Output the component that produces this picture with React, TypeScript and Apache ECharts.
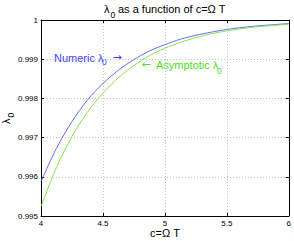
import React, { useEffect, useRef } from "react";
import * as echarts from "echarts";

const cValues = [4, 4.125, 4.25, 4.375, 4.5, 4.625, 4.75, 4.875, 5, 5.125, 5.25, 5.375, 5.5, 5.625, 5.75, 5.875, 6];
const numericLambda = [0.99588, 0.99673, 0.99741, 0.99796, 0.99838, 0.99872, 0.99899, 0.99921, 0.99937, 0.99951, 0.99961, 0.99969, 0.99976, 0.99981, 0.99985, 0.99988, 0.99991];
const asymptoticLambda = [0.99524, 0.99624, 0.99703, 0.99765, 0.99814, 0.99853, 0.99884, 0.99909, 0.99928, 0.99943, 0.99955, 0.99965, 0.99972, 0.99978, 0.99983, 0.99986, 0.99989];
const xTicks = [4, 4.5, 5, 5.5, 6];
const yTicks = [0.995, 0.996, 0.997, 0.998, 0.999, 1];

const FONT = "Liberation Sans, Arial, Helvetica, sans-serif";
const ARROW_FONT = "DejaVu Sans, sans-serif";

export default function App() {
  const ref = useRef<HTMLDivElement>(null);
  useEffect(() => {
    if (!ref.current) return;
    const chart = echarts.init(ref.current, null, { renderer: "svg" });
    const grid = "#c4c4c4";
    const axisCommon = {
      axisLine: { show: true, onZero: false, lineStyle: { color: "#000", width: 1 } },
      axisTick: { show: true, inside: true, length: 3, lineStyle: { color: "#000" } },
    };
    const txt = (text: string, x: number, y: number, fill: string, size: number, extra: any = {}, family = FONT) => ({
      type: "text",
      x,
      y,
      ...extra,
      style: {
        text,
        fill,
        font: `${size}px ${family}`,
        textAlign: "left",
        textVerticalAlign: "middle",
      },
    });
    chart.setOption({
      animation: false,
      backgroundColor: "#fff",
      grid: { left: 41, right: 5, top: 20, bottom: 25 },
      xAxis: [
        {
          type: "value",
          min: xTicks[0],
          max: xTicks[xTicks.length - 1],
          interval: 0.5,
          position: "bottom",
          ...axisCommon,
          axisLabel: {
            margin: 3,
            fontSize: 8,
            color: "#000",
            fontFamily: FONT,
            formatter: (v: number) => String(v),
          },
          splitLine: { show: true, lineStyle: { color: grid, type: [1, 2], width: 1 } },
        },
        {
          type: "value",
          min: xTicks[0],
          max: xTicks[xTicks.length - 1],
          interval: 0.5,
          position: "top",
          ...axisCommon,
          axisLabel: { show: false },
          splitLine: { show: false },
        },
      ],
      yAxis: [
        {
          type: "value",
          min: yTicks[0],
          max: yTicks[yTicks.length - 1],
          interval: 0.001,
          position: "left",
          ...axisCommon,
          axisLabel: {
            margin: 3,
            fontSize: 8,
            color: "#000",
            fontFamily: FONT,
            formatter: (v: number) => (Math.abs(v - 1) < 1e-9 ? "1" : v.toFixed(3)),
          },
          splitLine: { show: true, lineStyle: { color: grid, type: [1, 2], width: 1 } },
        },
        {
          type: "value",
          min: yTicks[0],
          max: yTicks[yTicks.length - 1],
          interval: 0.001,
          position: "right",
          ...axisCommon,
          axisLabel: { show: false },
          splitLine: { show: false },
        },
      ],
      series: [
        {
          type: "line",
          name: "Numeric",
          data: cValues.map((c, i) => [c, numericLambda[i]]),
          smooth: 0.3,
          showSymbol: false,
          lineStyle: { color: "#6a6aff", width: 1 },
          itemStyle: { color: "#6a6aff" },
        },
        {
          type: "line",
          name: "Asymptotic",
          data: cValues.map((c, i) => [c, asymptoticLambda[i]]),
          smooth: 0.3,
          showSymbol: false,
          lineStyle: { color: "#7ee84e", width: 1 },
          itemStyle: { color: "#7ee84e" },
        },
      ],
      graphic: [
        txt("λ", 104, 9, "#000", 11),
        txt("0", 110.5, 15, "#000", 8.5),
        txt("as a function of c=Ω T", 118, 9, "#000", 11),
        txt("c=Ω T", 150, 233, "#000", 11),
        txt("λ", 5.5, 124, "#000", 11, { rotation: Math.PI / 2 }),
        txt("0", 10.5, 117.5, "#000", 8.5, { rotation: Math.PI / 2 }),
        txt("Numeric λ", 54, 57.5, "#3d3dff", 11),
        txt("0", 102, 62, "#3d3dff", 8.5),
        txt("→", 112.5, 57, "#3d3dff", 11, {}, ARROW_FONT),
        txt("←", 141.5, 64.5, "#4be01a", 11, {}, ARROW_FONT),
        txt("Asymptotic λ", 156, 64.5, "#4be01a", 11),
        txt("0", 217, 71, "#4be01a", 8.5),
      ],
    });
    return () => chart.dispose();
  }, []);
  return (
    <div
      ref={ref}
      style={{ position: "absolute", left: 0, top: 0, width: 294, height: 241, background: "#fff" }}
    />
  );
}
